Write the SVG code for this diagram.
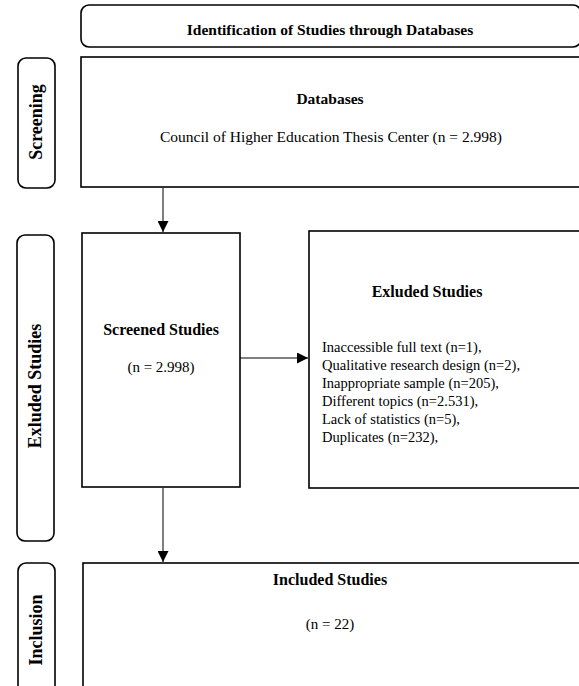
<svg xmlns="http://www.w3.org/2000/svg" width="579" height="686" viewBox="0 0 579 686">
<style>
  .box{fill:#fff;stroke:#000;stroke-width:1.6}
  .lbl{fill:#fff;stroke:#000;stroke-width:1.6}
  .b{font-family:"Liberation Serif","Times New Roman",serif;font-weight:bold;fill:#000}
  .n{font-family:"Liberation Serif","Times New Roman",serif;fill:#000}
  .li{font-family:"Liberation Serif","Times New Roman",serif;fill:#000;font-size:14.5px}
  .v{font-family:"Liberation Serif","Times New Roman",serif;font-weight:bold;fill:#000;font-size:18px}
  .conn{stroke:#000;stroke-width:1;fill:none}
</style>
<defs>
  <marker id="ah" markerWidth="11" markerHeight="11" refX="11" refY="5.5" orient="auto" markerUnits="userSpaceOnUse">
    <path d="M0,0 L11,5.5 L0,11 Z" fill="#000"/>
  </marker>
</defs>
<rect width="579" height="686" fill="#fff"/>
<g id="title">
  <rect class="lbl" x="81" y="5" width="500" height="42" rx="8"/>
  <text class="b" x="330" y="35" font-size="15.5" text-anchor="middle">Identification of Studies through Databases</text>
</g>
<g id="screening-label">
  <rect class="lbl" x="18" y="58" width="37" height="130" rx="8"/>
  <text class="v" text-anchor="middle" transform="translate(42,122) rotate(-90)">Screening</text>
</g>
<g id="databases">
  <rect class="box" x="81" y="57" width="500" height="130"/>
  <text class="b" x="330" y="104" font-size="15.5" text-anchor="middle">Databases</text>
  <text class="n" x="331" y="142" font-size="15.5" text-anchor="middle">Council of Higher Education Thesis Center (n = 2.998)</text>
</g>
<g id="excluded-label">
  <rect class="lbl" x="17" y="235" width="37" height="306" rx="8"/>
  <text class="v" text-anchor="middle" transform="translate(41,386) rotate(-90)">Exluded Studies</text>
</g>
<g id="screened">
  <rect class="box" x="82" y="233" width="158" height="254"/>
  <text class="b" x="161" y="335" font-size="16" text-anchor="middle">Screened Studies</text>
  <text class="n" x="161" y="372" font-size="15" text-anchor="middle">(n = 2.998)</text>
</g>
<g id="excluded">
  <rect class="box" x="309" y="231" width="272" height="257"/>
  <text class="b" x="427" y="297" font-size="16" text-anchor="middle">Exluded Studies</text>
  <text class="li" x="322" y="352">Inaccessible full text (n=1),</text>
  <text class="li" x="322" y="370" textLength="198" lengthAdjust="spacing">Qualitative research design (n=2),</text>
  <text class="li" x="322" y="388">Inappropriate sample (n=205),</text>
  <text class="li" x="322" y="406">Different topics (n=2.531),</text>
  <text class="li" x="322" y="424">Lack of statistics (n=5),</text>
  <text class="li" x="322" y="442">Duplicates (n=232),</text>
</g>
<g id="inclusion-label">
  <rect class="lbl" x="18" y="563" width="37" height="140" rx="8"/>
  <text class="v" text-anchor="middle" transform="translate(42,630) rotate(-90)">Inclusion</text>
</g>
<g id="included">
  <rect class="box" x="83" y="563" width="498" height="140"/>
  <text class="b" x="330" y="585" font-size="16" text-anchor="middle">Included Studies</text>
  <text class="n" x="330" y="629" font-size="15" text-anchor="middle">(n = 22)</text>
</g>
<g id="connectors">
  <line class="conn" x1="163" y1="188" x2="163" y2="232" marker-end="url(#ah)"/>
  <line class="conn" x1="240" y1="358" x2="308" y2="358" marker-end="url(#ah)"/>
  <line class="conn" x1="163" y1="488" x2="163" y2="562" marker-end="url(#ah)"/>
</g>
</svg>
